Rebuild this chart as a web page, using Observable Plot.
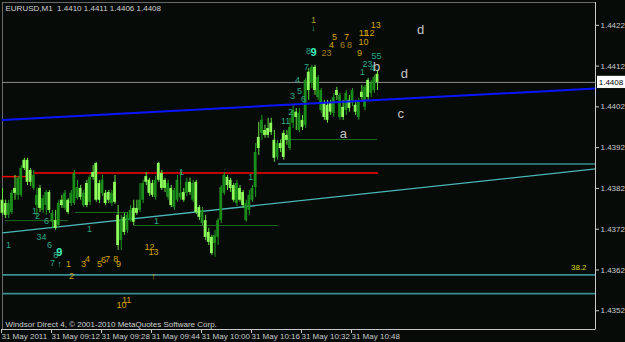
<!DOCTYPE html>
<html><head><meta charset="utf-8">
<script src="https://cdn.jsdelivr.net/npm/d3@7"></script>
<script src="https://cdn.jsdelivr.net/npm/@observablehq/plot@0.6"></script>
<style>
html,body{margin:0;padding:0;background:#060b08;overflow:hidden;}
svg{display:block;}
</style></head><body><div id="chart"></div>
<script>
// ---- data (EURUSD M1, bars are minutes after 08:56) ----
const opens = [
1.43791,1.43783,1.43754,1.43761,1.43820,1.43803,1.43803,1.43889,1.43889,1.43864,
1.43820,1.43778,1.43820,1.43766,1.43778,1.43810,1.43737,1.43741,1.43729,1.43791,
1.43771,1.43791,1.43783,1.43783,1.43795,1.43820,1.43778,1.43832,1.43786,1.43859,
1.43881,1.43832,1.43808,1.43808,1.43810,1.43783,1.43835,1.43754,1.43692,1.43749,
1.43717,1.43741,1.43771,1.43771,1.43766,1.43791,1.43849,1.43840,1.43832,1.43798,
1.43881,1.43857,1.43840,1.43798,1.43820,1.43773,1.43791,1.43798,1.43810,1.43808,
1.43835,1.43791,1.43835,1.43773,1.43734,1.43741,1.43712,1.43700,1.43685,1.43700,
1.43741,1.43808,1.43847,1.43840,1.43827,1.43783,1.43820,1.43810,1.43741,1.43766,
1.43791,1.43822,1.43945,1.43955,1.43962,1.43967,1.43980,1.43938,1.43896,1.43930,
1.43955,1.43950,1.43918,1.43980,1.44007,1.43962,1.43987,1.43975,1.44105,1.44078,
1.44117,1.44043,1.44011,1.44029,1.44024,1.44029,1.44004,1.44060,1.43994,1.44019,
1.44011,1.44036,1.44029,1.44024,1.43994,1.44056,1.44019,1.44085,1.44053,1.44060,
1.44100];
const highs = [
1.43820,1.43791,1.43791,1.43815,1.43852,1.43849,1.43876,1.43894,1.43894,1.43869,
1.43864,1.43820,1.43827,1.43803,1.43815,1.43815,1.43766,1.43766,1.43791,1.43803,
1.43815,1.43795,1.43815,1.43864,1.43840,1.43827,1.43815,1.43840,1.43852,1.43876,
1.43884,1.43840,1.43852,1.43815,1.43815,1.43815,1.43852,1.43778,1.43754,1.43759,
1.43761,1.43778,1.43791,1.43791,1.43832,1.43840,1.43859,1.43845,1.43840,1.43849,
1.43884,1.43864,1.43845,1.43840,1.43827,1.43820,1.43852,1.43864,1.43820,1.43845,
1.43845,1.43840,1.43840,1.43778,1.43773,1.43754,1.43722,1.43705,1.43717,1.43746,
1.43827,1.43859,1.43852,1.43845,1.43832,1.43840,1.43827,1.43815,1.43791,1.43815,
1.43827,1.43930,1.43982,1.43999,1.43975,1.43992,1.43992,1.43962,1.43938,1.43938,
1.43962,1.43962,1.43992,1.44024,1.44016,1.44016,1.43999,1.44090,1.44114,1.44122,
1.44122,1.44097,1.44065,1.44036,1.44036,1.44036,1.44053,1.44068,1.44053,1.44036,
1.44060,1.44048,1.44065,1.44036,1.44041,1.44073,1.44073,1.44090,1.44085,1.44097,
1.44110];
const lows = [
1.43754,1.43746,1.43746,1.43756,1.43791,1.43791,1.43798,1.43864,1.43827,1.43825,
1.43815,1.43749,1.43761,1.43759,1.43754,1.43759,1.43722,1.43717,1.43724,1.43771,
1.43766,1.43756,1.43776,1.43778,1.43791,1.43791,1.43773,1.43773,1.43778,1.43840,
1.43786,1.43783,1.43800,1.43778,1.43783,1.43776,1.43781,1.43668,1.43668,1.43705,
1.43710,1.43737,1.43729,1.43754,1.43761,1.43783,1.43827,1.43800,1.43798,1.43791,
1.43835,1.43815,1.43810,1.43791,1.43773,1.43766,1.43786,1.43791,1.43786,1.43800,
1.43803,1.43786,1.43756,1.43741,1.43729,1.43692,1.43680,1.43656,1.43651,1.43680,
1.43734,1.43803,1.43815,1.43810,1.43786,1.43776,1.43786,1.43771,1.43737,1.43754,
1.43786,1.43798,1.43901,1.43938,1.43943,1.43943,1.43950,1.43884,1.43889,1.43908,
1.43889,1.43926,1.43913,1.43967,1.43962,1.43957,1.43962,1.43967,1.44036,1.44065,
1.44048,1.44036,1.44004,1.43987,1.43980,1.43999,1.43994,1.44036,1.43987,1.43987,
1.43999,1.44007,1.44021,1.43999,1.43987,1.44036,1.44011,1.44036,1.44043,1.44053,
1.44060];
const closes = [
1.43759,1.43754,1.43783,1.43808,1.43808,1.43845,1.43869,1.43869,1.43835,1.43835,
1.43852,1.43803,1.43771,1.43795,1.43810,1.43766,1.43759,1.43722,1.43783,1.43778,
1.43808,1.43761,1.43808,1.43857,1.43822,1.43798,1.43808,1.43778,1.43847,1.43847,
1.43791,1.43791,1.43840,1.43783,1.43791,1.43808,1.43786,1.43680,1.43741,1.43712,
1.43754,1.43766,1.43737,1.43759,1.43791,1.43832,1.43835,1.43808,1.43803,1.43840,
1.43840,1.43820,1.43820,1.43832,1.43778,1.43815,1.43840,1.43808,1.43791,1.43835,
1.43810,1.43832,1.43761,1.43749,1.43766,1.43700,1.43688,1.43660,1.43705,1.43741,
1.43822,1.43852,1.43827,1.43820,1.43791,1.43832,1.43791,1.43778,1.43783,1.43803,
1.43820,1.43908,1.43918,1.43987,1.43950,1.43950,1.43957,1.43894,1.43930,1.43918,
1.43896,1.43938,1.43970,1.44011,1.43994,1.44004,1.43970,1.44085,1.44060,1.44117,
1.44060,1.44092,1.44060,1.43994,1.43987,1.44007,1.44043,1.44048,1.44048,1.43994,
1.44053,1.44016,1.44060,1.44007,1.44031,1.44043,1.44068,1.44043,1.44078,1.44092,
1.44080];

const timeTicks = [0, 16, 32, 48, 64, 80, 96, 112];
const timeLabels = ["31 May 2011","31 May 09:12","31 May 09:28","31 May 09:44","31 May 10:00","31 May 10:16","31 May 10:32","31 May 10:48"];
const priceTicks = [1.4352, 1.4362, 1.4372, 1.4382, 1.4392, 1.4402, 1.4412, 1.4422];
const lastPrice = 1.4408;
const headerText = "EURUSD,M1  1.4410 1.4411 1.4406 1.4408";
const footerText = "Windsor Direct 4, © 2001-2010 MetaQuotes Software Corp.";

const timeEnd = 189.76;
const priceMin = 1.43474, priceMax = 1.44276;

const redLevels = [{from: 0, to: 8, price: 1.43849}, {from: 10.2, to: 120.3, price: 1.43858}];
const fiboLevels = [{from: 88.3, to: timeEnd, price: 1.43880}, {from: 0, to: timeEnd, price: 1.43608}, {from: 0, to: timeEnd, price: 1.43562}];
const fiboLabels = [{t: 186.9, price: 1.43626, text: "38.2"}];
const supportLevels = [{from: 1, to: 21.1, price: 1.43741}, {from: 23.4, to: 40, price: 1.43761}, {from: 42, to: 88.3, price: 1.43729}, {from: 89, to: 120, price: 1.43940}];
const blueTrend = [{t: 0, price: 1.43988}, {t: timeEnd, price: 1.44065}];
const tealTrend = [{t: 0, price: 1.43711}, {t: timeEnd, price: 1.43868}];

// wave labels [time, price, text]
const tealLabels = [
[99.5,1.44213,"↓"],[97.9,1.44156,"8"],[97.3,1.44117,"7"],[94.4,1.44085,"4"],[92.8,1.44046,"3"],[95.0,1.44058,"5"],[96.3,1.44038,"6"],
[92.2,1.44007,"2"],[90.6,1.43984,"11"],[79.4,1.43847,"1"],[57.3,1.43859,"1"],[49.3,1.43741,"1"],[27.8,1.43719,"1"],
[10.2,1.43764,"1"],[11.2,1.43751,"2"],[14.1,1.43741,"6"],[12.5,1.43700,"34"],[1.9,1.43680,"1"],[15.0,1.43680,"6"],
[17.0,1.43656,"8"],[16.0,1.43638,"7"],[18.2,1.43634,"↑"],[116.8,1.44124,"23"],[118.4,1.44114,"4"],[119.7,1.44144,"55"],[115.2,1.44105,"1"]];
const brightLabels = [[99.5,1.44154,"9"],[18.2,1.43663,"9"]];
const oliveLabels = [[99.5,1.44232,"1"]];
const goldLabels = [
[119.4,1.44220,"13"],[115.5,1.44200,"11"],[117.4,1.44200,"12"],[115.5,1.44178,"10"],[114.2,1.44151,"9"],[106.2,1.44191,"5"],[110.1,1.44191,"7"],
[105.3,1.44171,"4"],[21.1,1.43634,"1"],[22.1,1.43604,"2"],[25.9,1.43634,"3"],[27.2,1.43646,"4"],[31.0,1.43634,"5"],[32.3,1.43643,"6"],
[33.6,1.43646,"7"],[36.2,1.43646,"8"],[37.1,1.43634,"9"],[47.0,1.43675,"12"],[48.3,1.43663,"13"],[48.3,1.43604,"↑"],[38.1,1.43535,"10"],[39.7,1.43545,"11"]];
const darkGoldLabels = [[108.8,1.44171,"6"],[111.0,1.44171,"8"],[103.7,1.44151,"23"]];
const letterLabels = [[133.8,1.44210,"d"],[128.6,1.44100,"d"],[127.4,1.44004,"c"],[109.1,1.43953,"a"],[119.7,1.44119,"b"]];

// ---- build ----
const bars = opens.map((o, i) => ({i, open: o, high: highs[i], low: lows[i], close: closes[i]}));
const isUp = d => d.close > d.open;
const lbl = (arr, opts) => Plot.text(arr, {x: d => d[0], y: d => d[1], text: d => d[2], fontSize: 9, ...opts});

const chart = Plot.plot({
  width: 625, height: 342,
  marginLeft: 2, marginRight: 30, marginTop: 2, marginBottom: 13,
  style: {background: "#060b08", fontFamily: "Liberation Sans, Arial, sans-serif", fontSize: "8px"},
  x: {domain: [0, timeEnd], axis: null},
  y: {domain: [priceMin, priceMax], axis: null},
  color: {type: "identity"},
  marks: [
    Plot.frame({stroke: "#6a6a6a"}),
    Plot.ruleY([lastPrice], {stroke: "#8c8c8c", strokeWidth: 1}),
    Plot.ruleY(fiboLevels, {y: "price", x1: "from", x2: "to", stroke: "#3a8f90", strokeWidth: 1.6}),
    Plot.ruleY(supportLevels, {y: "price", x1: "from", x2: "to", stroke: "#1d6a1d", strokeWidth: 1}),
    Plot.line(tealTrend, {x: "t", y: "price", stroke: "#4cb6b6", strokeWidth: 1.3}),
    Plot.ruleY(redLevels, {y: "price", x1: "from", x2: "to", stroke: "#ff0000", strokeWidth: 1.4}),
    Plot.ruleX(bars, {x: "i", y1: "low", y2: "high", stroke: d => isUp(d) ? "#1f9a1f" : "#66e040", strokeWidth: 1}),
    Plot.rect(bars, {x1: d => d.i - 0.45, x2: d => d.i + 0.45, y1: "open", y2: "close",
      fill: d => isUp(d) ? "#1a8c1a" : "#8cff5a"}),
    Plot.line(blueTrend, {x: "t", y: "price", stroke: "#0a14ff", strokeWidth: 2}),
    lbl(tealLabels, {fill: "#29a886"}),
    lbl(brightLabels, {fill: "#3ff0b8", fontSize: 11, fontWeight: "bold"}),
    lbl(oliveLabels, {fill: "#a7a21e"}),
    lbl(goldLabels, {fill: "#d4a400"}),
    lbl(darkGoldLabels, {fill: "#a8801a"}),
    lbl(letterLabels, {fill: "#c4c4c4", fontSize: 13}),
    Plot.text(fiboLabels, {x: "t", y: "price", text: "text", fill: "#d8d800", textAnchor: "end", fontSize: 8}),
    Plot.text([headerText], {frameAnchor: "top-left", dx: 3, dy: 3, fill: "#d0d0d0", fontSize: 8}),
    Plot.text([footerText], {frameAnchor: "bottom-left", dx: 3, dy: -3, fill: "#d0d0d0", fontSize: 8}),
    Plot.ruleX([timeEnd], {stroke: "#c8c8c8", strokeWidth: 1}),
    Plot.ruleY([priceMin], {stroke: "#c8c8c8", strokeWidth: 1}),
    Plot.axisY({anchor: "right", ticks: priceTicks, tickFormat: d => d.toFixed(4), tickSize: 3, tickPadding: 2, color: "#c8c8c8", fontSize: 8}),
    Plot.axisX({anchor: "bottom", ticks: timeTicks, tickFormat: d => timeLabels[timeTicks.indexOf(d)], tickSize: 4, tickPadding: 0, textAnchor: "start", dx: -1, color: "#c8c8c8", fontSize: 8}),
    Plot.rect([lastPrice], {x1: 190.4, x2: 199.6, y1: d => d - 0.00015, y2: d => d + 0.00015, fill: "#ffffff"}),
    Plot.text([lastPrice], {x: 190.8, y: d => d, text: d => d.toFixed(4), textAnchor: "start", fill: "#000000", fontSize: 8})
  ]
});
document.getElementById("chart").appendChild(chart);
</script>
</body></html>
